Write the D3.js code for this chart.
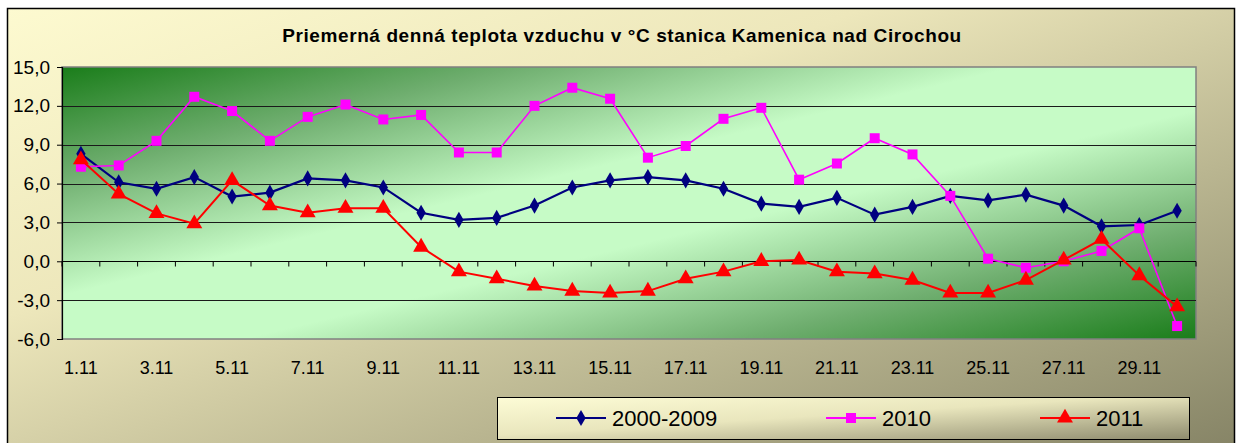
<!DOCTYPE html>
<html>
<head>
<meta charset="utf-8">
<script src="https://cdn.jsdelivr.net/npm/d3@7"></script>
<style>
  body { margin: 0; background: #fff; }
  text { font-family: "Liberation Sans", Arial, sans-serif; }
</style>
</head>
<body>
<div id="chart"></div>
<script>
var days = ["1.11","2.11","3.11","4.11","5.11","6.11","7.11","8.11","9.11","10.11",
  "11.11","12.11","13.11","14.11","15.11","16.11","17.11","18.11","19.11","20.11",
  "21.11","22.11","23.11","24.11","25.11","26.11","27.11","28.11","29.11","30.11"];

var avg0009 = [8.3, 6.1, 5.6, 6.5, 5.0, 5.3, 6.4, 6.25, 5.7, 3.75,
  3.2, 3.35, 4.3, 5.7, 6.25, 6.5, 6.25, 5.6, 4.45, 4.2,
  4.9, 3.6, 4.2, 5.05, 4.7, 5.15, 4.3, 2.7, 2.8, 3.9];

var y2010 = [7.3, 7.4, 9.3, 12.7, 11.6, 9.3, 11.15, 12.1, 10.95, 11.3,
  8.4, 8.4, 12.0, 13.4, 12.55, 8.0, 8.9, 11.0, 11.85, 6.3,
  7.55, 9.5, 8.25, 5.05, 0.2, -0.5, 0.0, 0.8, 2.55, -5.0];

var y2011 = [7.85, 5.2, 3.7, 2.9, 6.25, 4.3, 3.75, 4.1, 4.1, 1.1,
  -0.8, -1.35, -1.9, -2.3, -2.45, -2.3, -1.35, -0.8, 0.0, 0.1,
  -0.8, -0.95, -1.45, -2.45, -2.45, -1.45, 0.1, 1.7, -1.1, -3.5];

var yTicks = [-6, -3, 0, 3, 6, 9, 12, 15];
var seriesNames = ["2000-2009", "2010", "2011"];
var seriesColors = ["#000080", "#ff00ff", "#ff0000"];

var width = 1237, height = 443;
var plot = {left: 62, top: 67, right: 1196, bottom: 339};

var svg = d3.select("#chart").append("svg")
  .attr("width", width)
  .attr("height", height);

var defs = svg.append("defs");

var bg = defs.append("linearGradient").attr("id", "bgGrad")
  .attr("x1", 0).attr("y1", 0).attr("x2", 1).attr("y2", 1);
bg.append("stop").attr("offset", 0).attr("stop-color", "#fdfad0");
bg.append("stop").attr("offset", 0.35).attr("stop-color", "#ede7bb");
bg.append("stop").attr("offset", 1).attr("stop-color", "#868466");

var pg = defs.append("linearGradient").attr("id", "plotGrad")
  .attr("x1", 0).attr("y1", 0).attr("x2", 1).attr("y2", 1);
pg.append("stop").attr("offset", 0).attr("stop-color", "#1a7d1a");
pg.append("stop").attr("offset", 0.2).attr("stop-color", "#6fae6f");
pg.append("stop").attr("offset", 0.42).attr("stop-color", "#c6fbc6");
pg.append("stop").attr("offset", 0.58).attr("stop-color", "#c6fbc6");
pg.append("stop").attr("offset", 0.8).attr("stop-color", "#6fae6f");
pg.append("stop").attr("offset", 1).attr("stop-color", "#1a7d1a");

var lg = defs.append("linearGradient").attr("id", "legGrad")
  .attr("x1", 0).attr("y1", 0).attr("x2", 1).attr("y2", 1);
lg.append("stop").attr("offset", 0).attr("stop-color", "#fdfcd6");
lg.append("stop").attr("offset", 0.45).attr("stop-color", "#e9e6bd");
lg.append("stop").attr("offset", 1).attr("stop-color", "#8e8b6e");

// chart area
svg.append("rect")
  .attr("x", 7.5).attr("y", 8.5)
  .attr("width", 1227).attr("height", 440)
  .attr("fill", "url(#bgGrad)")
  .attr("stroke", "#000").attr("stroke-width", 1.5);

// title
svg.append("text")
  .attr("x", 622).attr("y", 42)
  .attr("text-anchor", "middle")
  .attr("font-size", 19)
  .attr("font-weight", "bold")
  .attr("letter-spacing", 0.6)
  .text("Priemerná denná teplota vzduchu v °C stanica Kamenica nad Cirochou");

var x = d3.scaleBand().domain(days).range([plot.left, plot.right]);
var y = d3.scaleLinear().domain([-6, 15]).range([plot.bottom, plot.top]);
var cx = function(d, i) { return x(days[i]) + x.bandwidth() / 2; };

// plot area
svg.append("rect")
  .attr("x", plot.left).attr("y", plot.top)
  .attr("width", plot.right - plot.left).attr("height", plot.bottom - plot.top)
  .attr("fill", "url(#plotGrad)")
  .attr("stroke", "#808080").attr("stroke-width", 1.5);

// gridlines
svg.append("g")
  .selectAll("line")
  .data(yTicks.filter(function(t) { return t > -6 && t < 15; }))
  .enter().append("line")
  .attr("x1", plot.left).attr("x2", plot.right)
  .attr("y1", function(d) { return Math.round(y(d)) + 0.5; })
  .attr("y2", function(d) { return Math.round(y(d)) + 0.5; })
  .attr("stroke", "#1a1a1a").attr("stroke-width", 1.2);

// y axis
var yAxis = svg.append("g")
  .attr("transform", "translate(" + plot.left + ",0)")
  .call(d3.axisLeft(y).tickValues(yTicks).tickSize(5).tickPadding(7)
    .tickFormat(function(d) { return d3.format(".1f")(d).replace(".", ",").replace("−", "-"); }));
yAxis.select(".domain").attr("stroke", "#000").attr("stroke-width", 1.2);
yAxis.selectAll(".tick line").attr("stroke", "#000");
yAxis.selectAll("text").attr("font-size", 19).attr("fill", "#000")
  .attr("font-family", "'Liberation Sans', Arial, sans-serif");

// x axis on the zero line, ticks at category boundaries
var xAxis = svg.append("g")
  .attr("transform", "translate(0," + (Math.round(y(0)) + 0.5) + ")");
xAxis.append("line")
  .attr("x1", plot.left).attr("x2", plot.right)
  .attr("stroke", "#000").attr("stroke-width", 1.2);
xAxis.selectAll("line.tk")
  .data(days.concat(["end"]))
  .enter().append("line").attr("class", "tk")
  .attr("x1", function(d, i) { return plot.left + i * x.bandwidth(); })
  .attr("x2", function(d, i) { return plot.left + i * x.bandwidth(); })
  .attr("y1", 0).attr("y2", 5)
  .attr("stroke", "#000");

// x labels at the bottom
svg.append("g")
  .selectAll("text")
  .data(days.filter(function(d, i) { return i % 2 === 0; }))
  .enter().append("text")
  .attr("x", function(d) { return x(d) + x.bandwidth() / 2; })
  .attr("y", 374)
  .attr("text-anchor", "middle")
  .attr("font-size", 18)
  .text(function(d) { return d; });

var line = d3.line()
  .x(cx)
  .y(function(d) { return y(d); });

var allSeries = [avg0009, y2010, y2011];
var symbols = [d3.symbolDiamond, d3.symbolSquare, d3.symbolTriangle];
var symSizes = [75, 100, 110];
var lineWidths = [2.2, 1.6, 2];

allSeries.forEach(function(data, s) {
  var g = svg.append("g");
  g.append("path")
    .datum(data)
    .attr("d", line)
    .attr("fill", "none")
    .attr("stroke", seriesColors[s])
    .attr("stroke-width", lineWidths[s]);
  g.selectAll("path.mk")
    .data(data)
    .enter().append("path").attr("class", "mk")
    .attr("transform", function(d, i) { return "translate(" + cx(d, i) + "," + y(d) + ")"; })
    .attr("d", d3.symbol().type(symbols[s]).size(symSizes[s]))
    .attr("fill", seriesColors[s]);
});

// legend
svg.append("rect")
  .attr("x", 497.5).attr("y", 397.5)
  .attr("width", 692).attr("height", 42)
  .attr("fill", "url(#legGrad)")
  .attr("stroke", "#000").attr("stroke-width", 1);

var legX = [556, 826, 1040];
var leg = svg.append("g").selectAll("g")
  .data(seriesNames)
  .enter().append("g")
  .attr("transform", function(d, i) { return "translate(" + legX[i] + ",418)"; });
leg.append("line")
  .attr("x1", 0).attr("x2", 50)
  .attr("stroke", function(d, i) { return seriesColors[i]; })
  .attr("stroke-width", 2);
leg.append("path")
  .attr("transform", "translate(25,0)")
  .attr("d", function(d, i) { return d3.symbol().type(symbols[i]).size(symSizes[i])(); })
  .attr("fill", function(d, i) { return seriesColors[i]; });
leg.append("text")
  .attr("x", 56).attr("y", 8)
  .attr("font-size", 22)
  .text(function(d) { return d; });
</script>
</body>
</html>
